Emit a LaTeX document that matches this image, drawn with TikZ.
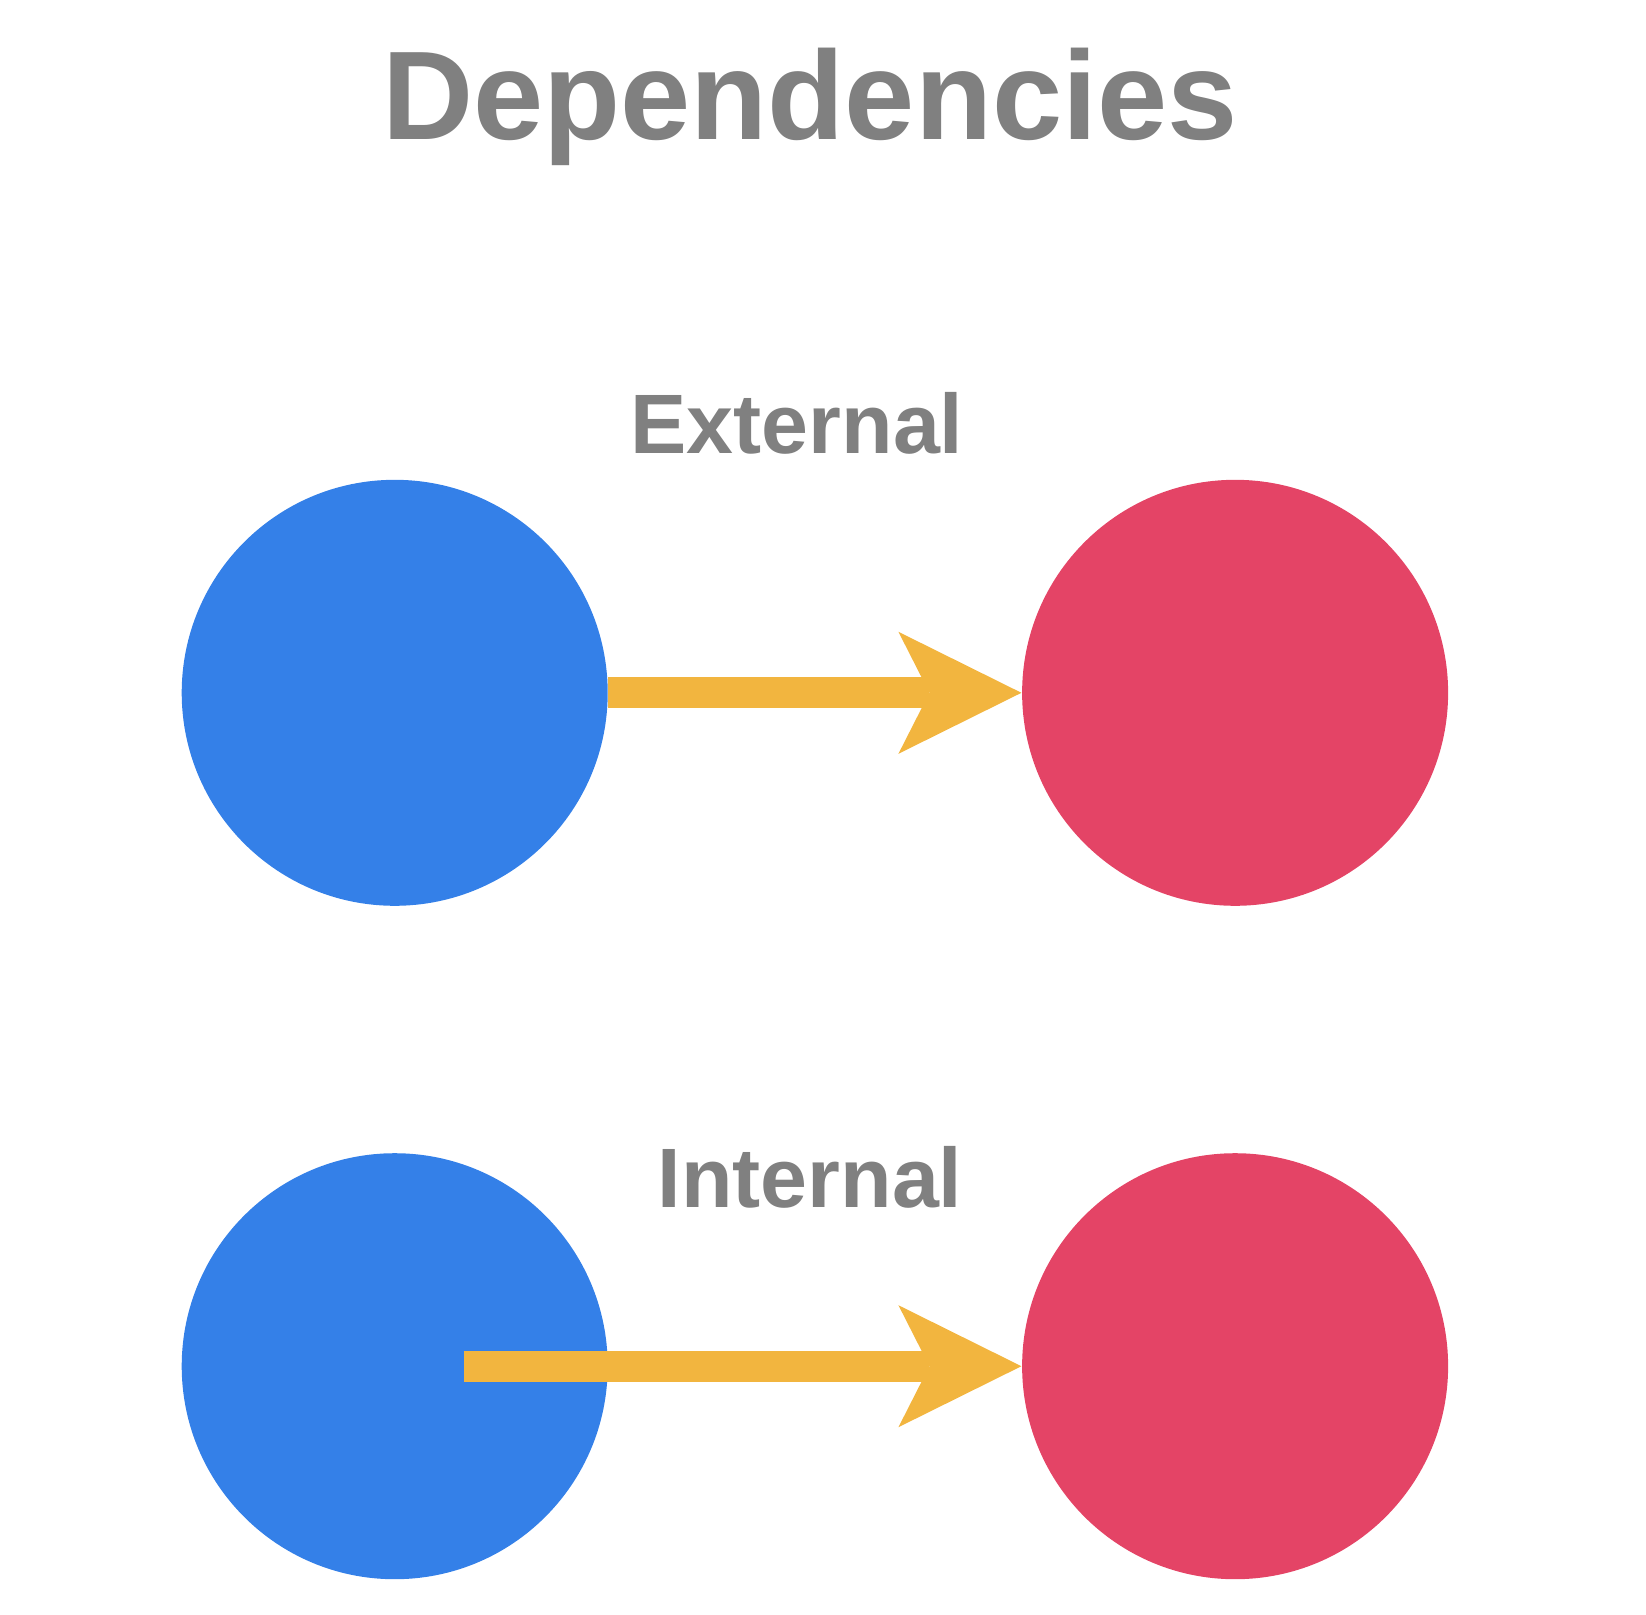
\documentclass[tikz,border=0pt]{standalone}
\usepackage{fontspec}
\setmainfont{Liberation Sans}
\usepackage{xcolor}
\usepackage{tikz}
\usetikzlibrary{positioning,arrows.meta}
\definecolor{depblue}{HTML}{3480E8}
\definecolor{depred}{HTML}{E44466}
\definecolor{depyellow}{HTML}{F2B53F}
\definecolor{depgray}{HTML}{808080}
\tikzset{%
	dot/.style     = {circle, minimum size = 4.26cm, inner sep = 0pt},
	dep/.style     = {draw = depyellow, line width = 0.31cm,
		-{Stealth[length = 1.23cm, width = 1.22cm, inset = 0.31cm, line width' = 0pt]}},
	heading/.style = {text = depgray, anchor = base,
		font = \bfseries\fontsize{24}{28}\selectfont}
}

\begin{document}
\begin{tikzpicture}[x=1cm, y=-1cm, node distance=4.13cm]
	\useasboundingbox (0,0) rectangle (16.46,16.14);
	\draw
	node at (8.10,1.40)[heading, font=\bfseries\fontsize{35.9}{40}\selectfont] (title) {Dependencies}
	node at (3.947,6.928)[dot, fill=depblue] (ext) {}
	node [dot, fill=depred, right=of ext] (extdep) {}
	node [dot, fill=depblue, below=2.46cm of ext] (int) {}
	node [dot, fill=depred, right=of int] (intdep) {}
	node at (7.97,4.535)[heading] (extlabel) {External}
	node at (8.10,12.07)[heading] (intlabel) {Internal};
	\coordinate[right=0.69cm of int.center] (intsrc);
	
	\draw[dep] (ext) -- (extdep);
	\draw[dep] (intsrc) -- (intdep);
	
\end{tikzpicture}
\end{document}
